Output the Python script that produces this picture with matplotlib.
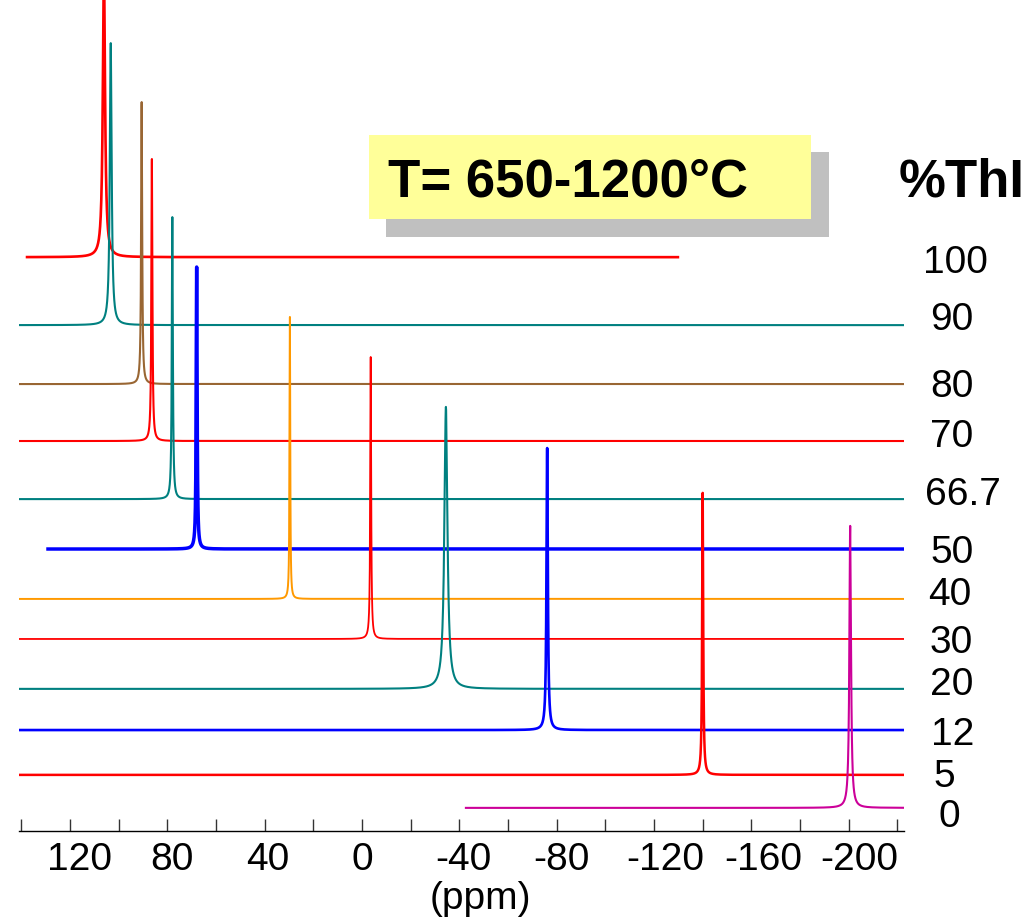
import numpy as np
import matplotlib
matplotlib.use("Agg")
import matplotlib.pyplot as plt
from matplotlib.patches import Rectangle
from matplotlib.transforms import ScaledTranslation

plt.rcParams['font.family'] = ['Liberation Sans', 'DejaVu Sans']
plt.rcParams['axes.unicode_minus'] = False

# ---- spectral data (ppm scale, intensities normalised to the tallest line) ----
thi_percent = ["100", "90", "80", "70", "66.7", "50", "40", "30", "20", "12", "5", "0"]
peak_ppm = [106.0, 103.2, 90.5, 86.3, 77.9, 67.9, 29.6, -3.6, -34.5, -76.1, -140.0, -200.6]
peak_height = [1.0, 1.0, 1.0, 1.0, 1.0, 1.0, 1.0, 1.0, 1.0, 1.0, 1.0, 1.0]
peak_fwhm = [1.1, 0.9, 0.5, 0.5, 0.5, 0.45, 0.35, 0.45, 1.5, 0.65, 0.5, 0.8]
stack_offset = [2.035, 1.794, 1.585, 1.383, 1.177, 1.0, 0.823, 0.681, 0.504, 0.358, 0.199, 0.082]
ppm_high = [137.6, 141.0, 141.0, 141.0, 141.0, 129.0, 141.0, 141.0, 141.0, 141.0, 141.0, -42.7]
ppm_low = [-129.8, -222.5, -222.5, -222.5, -222.5, -222.5, -222.5, -222.5, -222.5, -222.5, -222.5, -222.5]

tick_values = list(range(140, -221, -20))

# ---- styling ----
colors = ["#FF0000", "#008080", "#996633", "#FF0000", "#008080", "#0000FF",
          "#FF9900", "#FF0000", "#008080", "#0000FF", "#FF0000", "#CC0099"]
line_widths = [1.9, 1.5, 1.5, 1.5, 1.5, 2.5, 1.4, 1.3, 1.5, 1.9, 1.8, 1.5]
# horizontal nudge (px) of each printed tick label
label_nudge = {120: 10, 80: 5, 40: 3, 0: 0, -40: 4, -80: 5, -120: 11, -160: 12, -200: 11}

W, H = 1023, 919
fig = plt.figure(figsize=(W / 100, H / 100), dpi=100)


def fx(px):
    return px / W


def fy(py):
    return 1 - py / H


ax = fig.add_axes([fx(19), fy(831), fx(904) - fx(19), fy(0) - fy(831)])
ax.set_xlim(140.9, -222.7)
ax.set_ylim(0, 2.947)


def lorentzian(x, x0, h, fwhm):
    return h / (1.0 + ((x - x0) / (fwhm / 2.0)) ** 2)


for i in range(len(thi_percent)):
    x = np.arange(ppm_low[i], ppm_high[i], 0.01)
    y = stack_offset[i] + lorentzian(x, peak_ppm[i], peak_height[i], peak_fwhm[i])
    ax.plot(x, y, color=colors[i], lw=line_widths[i], solid_joinstyle='round')

for s in ("top", "left", "right"):
    ax.spines[s].set_visible(False)
ax.spines["bottom"].set_linewidth(1.0)
ax.set_yticks([])
ax.set_xticks(tick_values)
ax.set_xticklabels([str(v) if v % 40 == 0 else "" for v in tick_values])
ax.tick_params(axis='x', direction='in', length=8.6, width=1.0, color='#333333',
               pad=8, labelsize=28)
ax.set_facecolor('none')
for v, lbl in zip(tick_values, ax.get_xticklabels()):
    dx = label_nudge.get(v, 0)
    if dx:
        lbl.set_transform(lbl.get_transform() + ScaledTranslation(dx / 100, 0, fig.dpi_scale_trans))

fig.text(fx(480), fy(899), "(ppm)", ha='center', va='center', fontsize=28)

# series labels on the right
label_x = [923, 930, 930, 930, 925, 930, 928, 930, 930, 931, 933, 938]
label_base = [273, 330, 397, 447, 505, 563, 605, 653, 695, 745, 787, 827]
for lab, lx, ly in zip(thi_percent, label_x, label_base):
    fig.text(fx(lx), fy(ly), lab, ha='left', va='baseline', fontsize=28)

fig.text(fx(899), fy(197), "%ThI", ha='left', va='baseline', fontsize=38,
         fontweight='bold')

# temperature box with drop shadow
fig.patches.append(Rectangle((fx(386), fy(237)), fx(829) - fx(386), fy(152) - fy(237),
                             transform=fig.transFigure, facecolor='#C0C0C0',
                             edgecolor='none', zorder=5))
fig.patches.append(Rectangle((fx(369), fy(219)), fx(811) - fx(369), fy(135) - fy(219),
                             transform=fig.transFigure, facecolor='#FFFF99',
                             edgecolor='none', zorder=6))
fig.text(fx(388), fy(197), "T= 650-1200°C", ha='left', va='baseline', fontsize=38,
         fontweight='bold', zorder=7)

fig.savefig("out.png", dpi=100)
